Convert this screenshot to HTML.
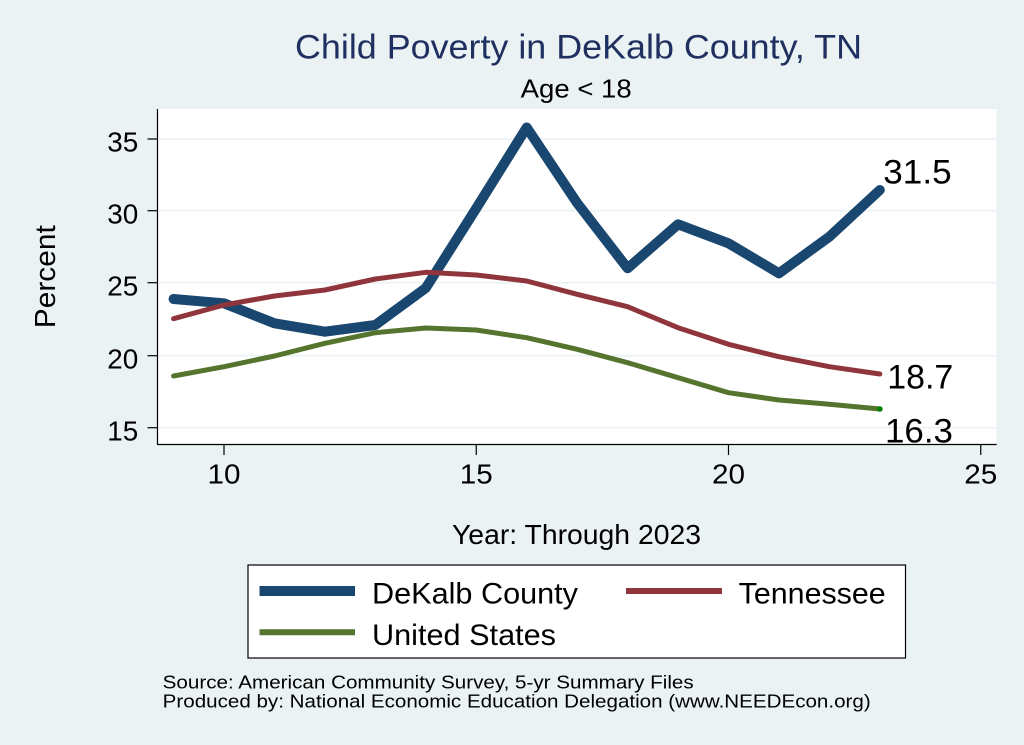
<!DOCTYPE html>
<html>
<head>
<meta charset="utf-8">
<style>
html,body{margin:0;padding:0;background:#eaf2f3;}
svg{display:block;}
text{font-family:"Liberation Sans",Arial,sans-serif;fill:#000;}
</style>
</head>
<body>
<svg width="1024" height="745" viewBox="0 0 1024 745" xmlns="http://www.w3.org/2000/svg">
<rect x="0" y="0" width="1024" height="745" fill="#eaf2f3"/>
<!-- plot region -->
<rect x="157.5" y="109" width="839.2" height="335" fill="#ffffff"/>
<!-- grid lines -->
<g stroke="#eaf2f3" stroke-width="1.6">
<line x1="157.5" y1="139" x2="996.7" y2="139"/>
<line x1="157.5" y1="210.7" x2="996.7" y2="210.7"/>
<line x1="157.5" y1="282.7" x2="996.7" y2="282.7"/>
<line x1="157.5" y1="355.7" x2="996.7" y2="355.7"/>
<line x1="157.5" y1="427.7" x2="996.7" y2="427.7"/>
</g>
<!-- axes -->
<g stroke="#000" stroke-width="1.2">
<line x1="157.5" y1="109" x2="157.5" y2="444.5"/>
<line x1="157" y1="444.5" x2="996.7" y2="444.5"/>
<line x1="147.5" y1="139" x2="157.5" y2="139"/>
<line x1="147.5" y1="210.7" x2="157.5" y2="210.7"/>
<line x1="147.5" y1="282.7" x2="157.5" y2="282.7"/>
<line x1="147.5" y1="355.7" x2="157.5" y2="355.7"/>
<line x1="147.5" y1="427.7" x2="157.5" y2="427.7"/>
<line x1="224" y1="444.5" x2="224" y2="455"/>
<line x1="476.25" y1="444.5" x2="476.25" y2="455"/>
<line x1="728.5" y1="444.5" x2="728.5" y2="455"/>
<line x1="980.75" y1="444.5" x2="980.75" y2="455"/>
</g>
<!-- y tick labels -->
<g font-size="28" text-anchor="end">
<text x="138.3" y="151.7" textLength="31" lengthAdjust="spacingAndGlyphs">35</text>
<text x="138.3" y="223.4" textLength="31" lengthAdjust="spacingAndGlyphs">30</text>
<text x="138.3" y="295.4" textLength="31" lengthAdjust="spacingAndGlyphs">25</text>
<text x="138.3" y="368.4" textLength="31" lengthAdjust="spacingAndGlyphs">20</text>
<text x="138.3" y="440.4" textLength="31" lengthAdjust="spacingAndGlyphs">15</text>
</g>
<!-- x tick labels -->
<g font-size="28">
<text x="207.5" y="483.3" textLength="33" lengthAdjust="spacingAndGlyphs">10</text>
<text x="459.75" y="483.3" textLength="33" lengthAdjust="spacingAndGlyphs">15</text>
<text x="712" y="483.3" textLength="33" lengthAdjust="spacingAndGlyphs">20</text>
<text x="964.25" y="483.3" textLength="33" lengthAdjust="spacingAndGlyphs">25</text>
</g>
<!-- series -->
<polyline fill="none" stroke="#1a476f" stroke-width="10" stroke-linejoin="round" stroke-linecap="round"
 points="173.55,299 224,303.3 274.45,323.3 324.9,331.7 375.35,325 425.8,288 476.25,208.3 526.7,127.5 577.15,203 627.6,268.3 678.05,224.3 728.5,243.3 778.95,273.3 829.4,236.7 879.85,190"/>
<polyline fill="none" stroke="#90353b" stroke-width="5" stroke-linejoin="round" stroke-linecap="round"
 points="173.55,318.7 224,305 274.45,296 324.9,290 375.35,279 425.8,272.3 476.25,275 526.7,281 577.15,294.3 627.6,306.7 678.05,327.7 728.5,344.3 778.95,356.7 829.4,366.7 879.85,374"/>
<polyline fill="none" stroke="#55752f" stroke-width="5" stroke-linejoin="round" stroke-linecap="round"
 points="173.55,376 224,366.7 274.45,356 324.9,343.3 375.35,332.7 425.8,328 476.25,330 526.7,337.7 577.15,349.3 627.6,362.7 678.05,377.7 728.5,392.7 778.95,400 829.4,404.3 879.85,409"/>
<circle cx="879.85" cy="409" r="2.8" fill="#008000"/>
<!-- value labels -->
<g font-size="34">
<text x="883.3" y="183.5" textLength="68.3" lengthAdjust="spacingAndGlyphs">31.5</text>
<text x="887.3" y="388.5" textLength="66" lengthAdjust="spacingAndGlyphs">18.7</text>
<text x="885" y="442.7" textLength="68" lengthAdjust="spacingAndGlyphs">16.3</text>
</g>
<!-- titles -->
<text x="295" y="58.3" font-size="34" style="fill:#1f2f5f" textLength="567" lengthAdjust="spacingAndGlyphs">Child Poverty in DeKalb County, TN</text>
<text x="520.7" y="97.7" font-size="26" textLength="111" lengthAdjust="spacingAndGlyphs">Age &lt; 18</text>
<text transform="translate(55,276.7) rotate(-90)" text-anchor="middle" font-size="29" textLength="103" lengthAdjust="spacingAndGlyphs">Percent</text>
<text x="452" y="544" font-size="28" textLength="249" lengthAdjust="spacingAndGlyphs">Year: Through 2023</text>
<!-- legend -->
<rect x="248" y="565" width="657.5" height="93" fill="#ffffff" stroke="#000" stroke-width="1.2"/>
<line x1="259.5" y1="591" x2="355" y2="591" stroke="#1a476f" stroke-width="10"/>
<line x1="626" y1="591" x2="722" y2="591" stroke="#90353b" stroke-width="6"/>
<line x1="259.5" y1="632.3" x2="355" y2="632.3" stroke="#55752f" stroke-width="6"/>
<g font-size="30">
<text x="372" y="603.3" textLength="206" lengthAdjust="spacingAndGlyphs">DeKalb County</text>
<text x="738.7" y="603.3" textLength="147" lengthAdjust="spacingAndGlyphs">Tennessee</text>
<text x="372" y="645" textLength="184" lengthAdjust="spacingAndGlyphs">United States</text>
</g>
<!-- notes -->
<g font-size="18">
<text x="162.7" y="688.5" textLength="531" lengthAdjust="spacingAndGlyphs">Source: American Community Survey, 5-yr Summary Files</text>
<text x="162.7" y="707.5" textLength="708" lengthAdjust="spacingAndGlyphs">Produced by: National Economic Education Delegation (www.NEEDEcon.org)</text>
</g>
</svg>
</body>
</html>
